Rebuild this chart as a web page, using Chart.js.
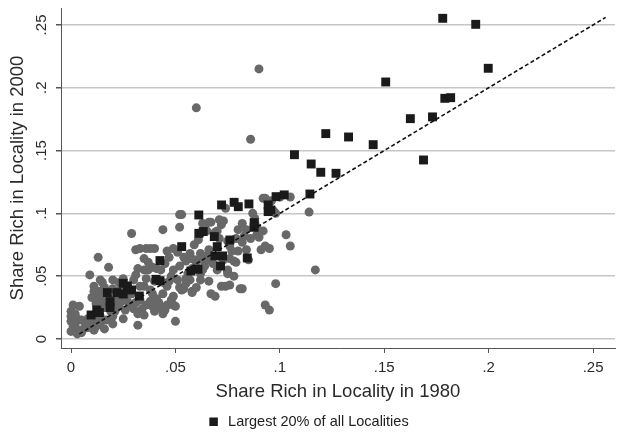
<!DOCTYPE html>
<html>
<head>
<meta charset="utf-8">
<script src="https://cdn.jsdelivr.net/npm/chart.js@4.4.1/dist/chart.umd.min.js"></script>
<style>
  html, body { margin: 0; padding: 0; background: #fff; }
  #wrap { width: 625px; height: 439px; }
</style>
</head>
<body>
<div id="wrap"><canvas id="chart"></canvas></div>
<script>
// ticks shared by both axes
const xTicks = [0, 0.05, 0.1, 0.15, 0.2, 0.25];
const yTicks = [0, 0.05, 0.1, 0.15, 0.2, 0.25];

// 45 degree reference line
const fitLine = [[0.004, 0.004], [0.256, 0.256]];

// largest 20% of localities (x = 1980 share, y = 2000 share)
const largest = [
    [0.0096, 0.0191], [0.0123, 0.0231], [0.0136, 0.021], [0.0187, 0.025], [0.0187, 0.0297],
    [0.0174, 0.0369], [0.0219, 0.0369], [0.025, 0.0358], [0.025, 0.0443], [0.027, 0.0422],
    [0.029, 0.039], [0.0327, 0.0342], [0.0426, 0.0624], [0.0407, 0.0475], [0.0426, 0.0464],
    [0.053, 0.0735], [0.0574, 0.0541], [0.0608, 0.0555], [0.0612, 0.0987], [0.0612, 0.0841],
    [0.0633, 0.0855], [0.0686, 0.0815], [0.070, 0.0735], [0.0689, 0.0661], [0.0726, 0.0661],
    [0.0716, 0.0581], [0.0761, 0.0788], [0.0721, 0.1067], [0.0781, 0.1088], [0.0801, 0.1053],
    [0.0852, 0.1075], [0.0844, 0.0645], [0.0877, 0.0926], [0.0877, 0.0889], [0.0944, 0.1067],
    [0.0944, 0.1014], [0.0957, 0.1027], [0.0982, 0.1133], [0.1021, 0.1147], [0.1144, 0.1154],
    [0.107, 0.1467], [0.115, 0.1393], [0.1196, 0.1327], [0.1269, 0.1319], [0.122, 0.1635],
    [0.1329, 0.1608], [0.1447, 0.1547], [0.1507, 0.2046], [0.1625, 0.1754], [0.1731, 0.1768],
    [0.1688, 0.1425], [0.178, 0.2553], [0.1938, 0.2505], [0.1998, 0.2155], [0.179, 0.1916],
    [0.1818, 0.1921]
];

// all other localities
const others = [
    [0.000, 0.022], [0.000, 0.018], [0.000, 0.014], [0.001, 0.010], [0.000, 0.006],
    [0.002, 0.020], [0.003, 0.016], [0.002, 0.012], [0.001, 0.027], [0.004, 0.026],
    [0.005, 0.015], [0.007, 0.012], [0.008, 0.016], [0.010, 0.017], [0.009, 0.013],
    [0.006, 0.008], [0.008, 0.009], [0.004, 0.007], [0.005, 0.005], [0.010, 0.009],
    [0.012, 0.011], [0.011, 0.007], [0.013, 0.015], [0.014, 0.018], [0.003, 0.004],
    [0.009, 0.051], [0.013, 0.065], [0.018, 0.057],
    [0.011, 0.038], [0.012, 0.036], [0.014, 0.038], [0.016, 0.041], [0.015, 0.045],
    [0.014, 0.047], [0.011, 0.042], [0.013, 0.030], [0.014, 0.032], [0.016, 0.029],
    [0.019, 0.022], [0.016, 0.025], [0.012, 0.028], [0.010, 0.033], [0.017, 0.015],
    [0.020, 0.018], [0.014, 0.012], [0.016, 0.008], [0.012, 0.010],
    [0.021, 0.022], [0.021, 0.027], [0.023, 0.026], [0.026, 0.023], [0.022, 0.033],
    [0.023, 0.045], [0.025, 0.048], [0.027, 0.040], [0.020, 0.047], [0.024, 0.040],
    [0.020, 0.040], [0.029, 0.084],
    [0.031, 0.071], [0.033, 0.072], [0.036, 0.072], [0.038, 0.072], [0.040, 0.072],
    [0.035, 0.064], [0.037, 0.061], [0.039, 0.057], [0.041, 0.056], [0.043, 0.055],
    [0.037, 0.055], [0.035, 0.055], [0.032, 0.056], [0.032, 0.011],
    [0.030, 0.047], [0.031, 0.051], [0.033, 0.042], [0.036, 0.048], [0.035, 0.042],
    [0.038, 0.039], [0.039, 0.036], [0.041, 0.032], [0.044, 0.036], [0.046, 0.042],
    [0.047, 0.046], [0.029, 0.036], [0.027, 0.030], [0.031, 0.029],
    [0.033, 0.031], [0.036, 0.027], [0.038, 0.030], [0.039, 0.026], [0.041, 0.026],
    [0.043, 0.025], [0.045, 0.023], [0.046, 0.027], [0.048, 0.031], [0.049, 0.027],
    [0.050, 0.026], [0.044, 0.020], [0.049, 0.034], [0.034, 0.024],
    [0.050, 0.014], [0.044, 0.087], [0.052, 0.099], [0.053, 0.099], [0.052, 0.089],
    [0.049, 0.072], [0.051, 0.069], [0.054, 0.065], [0.055, 0.062], [0.052, 0.058],
    [0.049, 0.055], [0.047, 0.065], [0.046, 0.070], [0.045, 0.060],
    [0.052, 0.041], [0.053, 0.039], [0.054, 0.040], [0.055, 0.044], [0.057, 0.047],
    [0.055, 0.048], [0.056, 0.052], [0.058, 0.038], [0.058, 0.037], [0.060, 0.041],
    [0.062, 0.047], [0.062, 0.052], [0.063, 0.055], [0.064, 0.062], [0.065, 0.066],
    [0.066, 0.071], [0.062, 0.068], [0.059, 0.063], [0.057, 0.064], [0.060, 0.058],
    [0.059, 0.075], [0.057, 0.068], [0.061, 0.079], [0.062, 0.084], [0.065, 0.086],
    [0.064, 0.089], [0.066, 0.093], [0.063, 0.092], [0.066, 0.063],
    [0.067, 0.093], [0.069, 0.085], [0.071, 0.080], [0.073, 0.094], [0.072, 0.091],
    [0.070, 0.086], [0.075, 0.078], [0.076, 0.074], [0.078, 0.062], [0.079, 0.061],
    [0.076, 0.064], [0.075, 0.055], [0.079, 0.080], [0.080, 0.087], [0.082, 0.092],
    [0.084, 0.087], [0.083, 0.082], [0.082, 0.077], [0.080, 0.070], [0.075, 0.054],
    [0.081, 0.040], [0.084, 0.071], [0.085, 0.063],
    [0.067, 0.036], [0.069, 0.034], [0.072, 0.042], [0.074, 0.042], [0.076, 0.043],
    [0.075, 0.052], [0.082, 0.040], [0.093, 0.027], [0.095, 0.023], [0.098, 0.044],
    [0.089, 0.083], [0.090, 0.081], [0.093, 0.074], [0.095, 0.072], [0.092, 0.086],
    [0.091, 0.071], [0.087, 0.100], [0.088, 0.096], [0.088, 0.093], [0.089, 0.089],
    [0.092, 0.112], [0.096, 0.110], [0.098, 0.100], [0.100, 0.113],
    [0.105, 0.113], [0.103, 0.083], [0.105, 0.074], [0.114, 0.101], [0.117, 0.055],
    [0.060, 0.184], [0.090, 0.215], [0.086, 0.159], [0.074, 0.104], [0.071, 0.095],
    [0.097, 0.102], [0.093, 0.112],
    [0.018, 0.032], [0.022, 0.037], [0.024, 0.030], [0.026, 0.034], [0.028, 0.027],
    [0.030, 0.024], [0.032, 0.020], [0.035, 0.019], [0.040, 0.022], [0.042, 0.029],
    [0.044, 0.045], [0.040, 0.046], [0.048, 0.050], [0.051, 0.047], [0.058, 0.056],
    [0.061, 0.063], [0.064, 0.058], [0.068, 0.060], [0.070, 0.055], [0.073, 0.063],
    [0.077, 0.070], [0.086, 0.080], [0.078, 0.050], [0.066, 0.046], [0.020, 0.012],
    [0.025, 0.016]
];

const toPoints = arr => arr.map(p => ({ x: p[0], y: p[1] }));
const fmtTick = v => v === 0 ? '0' : String(+v.toFixed(2)).replace(/^0/, '');

// y tick labels are drawn rotated, like the original
const rotatedYTicks = {
    id: 'rotatedYTicks',
    afterDraw(chart) {
        const ctx = chart.ctx;
        const y = chart.scales.y;
        ctx.save();
        ctx.font = '15px "Liberation Sans", Arial, sans-serif';
        ctx.fillStyle = '#2a2a2a';
        ctx.textAlign = 'center';
        ctx.textBaseline = 'middle';
        yTicks.forEach(v => {
            ctx.save();
            ctx.translate(42, y.getPixelForValue(v));
            ctx.rotate(-Math.PI / 2);
            ctx.fillText(fmtTick(v), 0, 0);
            ctx.restore();
        });
        ctx.restore();
    }
};

Chart.defaults.font.family = '"Liberation Sans", Arial, sans-serif';
Chart.defaults.color = '#2a2a2a';

new Chart(document.getElementById('chart'), {
    type: 'scatter',
    data: {
        datasets: [
            {
                type: 'line',
                label: 'fit',
                data: toPoints(fitLine),
                borderColor: '#111',
                borderWidth: 1.6,
                borderDash: [4, 2.5],
                pointRadius: 0,
                fill: false
            },
            {
                label: 'Largest 20% of all Localities',
                data: toPoints(largest),
                pointStyle: 'rect',
                pointRadius: 6.3,
                borderWidth: 0,
                backgroundColor: '#1a1a1a',
                borderColor: '#1a1a1a'
            },
            {
                label: 'others',
                data: toPoints(others),
                pointStyle: 'circle',
                pointRadius: 4.5,
                borderWidth: 0,
                backgroundColor: '#686868',
                borderColor: '#686868'
            }
        ]
    },
    options: {
        responsive: true,
        maintainAspectRatio: false,
        animation: false,
        layout: { padding: { top: 8, right: 10, left: 0, bottom: 0 } },
        plugins: {
            tooltip: { enabled: false },
            legend: {
                position: 'bottom',
                labels: {
                    filter: item => item.text === 'Largest 20% of all Localities',
                    usePointStyle: true,
                    boxHeight: 8.5,
                    color: '#222',
                    font: { size: 14.5 }
                }
            }
        },
        scales: {
            x: {
                type: 'linear',
                min: -0.0048,
                max: 0.2605,
                afterBuildTicks: s => { s.ticks = xTicks.map(v => ({ value: v })); },
                afterFit: s => { s.height = 56.5; },
                border: { color: '#555', width: 1 },
                grid: { drawOnChartArea: false, drawTicks: true, tickLength: 5, tickColor: '#555' },
                ticks: { callback: v => fmtTick(v), padding: 6, font: { size: 15 }, color: '#2a2a2a', maxRotation: 0 },
                title: { display: true, text: 'Share Rich in Locality in 1980', font: { size: 18.5 }, color: '#2a2a2a', padding: { top: 0, bottom: 1.5 } }
            },
            y: {
                type: 'linear',
                min: -0.0072,
                max: 0.2635,
                afterBuildTicks: s => { s.ticks = yTicks.map(v => ({ value: v })); },
                afterFit: s => { s.width = 61; },
                border: { color: '#555', width: 1 },
                grid: { color: '#c6c6c6', lineWidth: 1.5, drawTicks: true, tickLength: 5, tickColor: '#555' },
                ticks: { display: false },
                title: { display: true, text: 'Share Rich in Locality in 2000', font: { size: 18.5 }, color: '#2a2a2a', padding: { top: 7, bottom: 0 } }
            }
        }
    },
    plugins: [rotatedYTicks]
});
</script>
</body>
</html>
